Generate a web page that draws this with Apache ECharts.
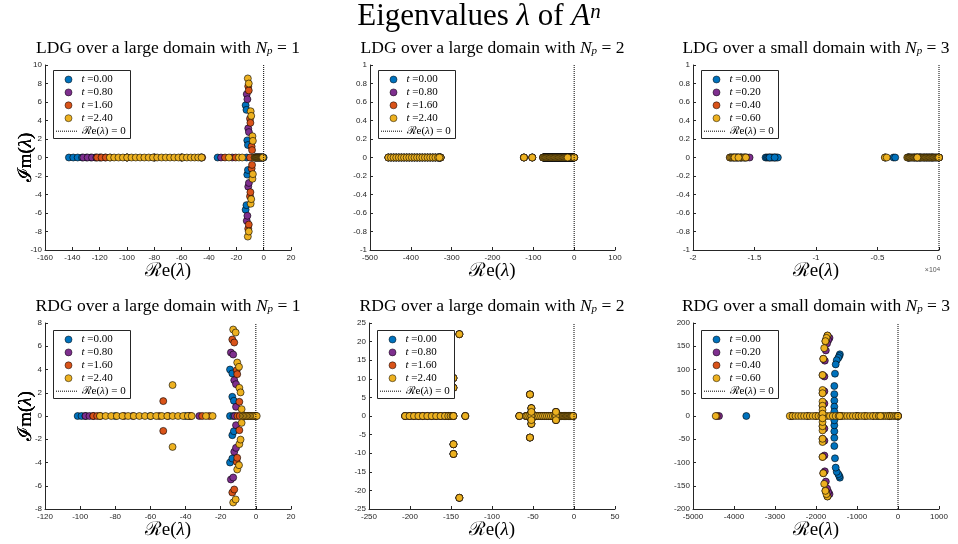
<!DOCTYPE html>
<html>
<head>
<meta charset="utf-8">
<script src="https://cdn.jsdelivr.net/npm/echarts@6/dist/echarts.min.js"></script>
<style>
html,body{margin:0;padding:0;background:#fff;}
#chart{width:958px;height:544px;}
</style>
</head>
<body>
<div id="chart"></div>
<script>
// ---------- series labels and colours ----------
const seriesColors = ['#0072BD', '#7E2F8E', '#D95319', '#EDB120'];
const timesLarge = ['0.00', '0.80', '1.60', '2.40'];
const timesSmall = ['0.00', '0.20', '0.40', '0.60'];
const panelMethods = ['LDG', 'LDG', 'LDG', 'RDG', 'RDG', 'RDG'];
const panelDomains = ['large', 'large', 'small', 'large', 'large', 'small'];
const panelNp = [1, 2, 3, 1, 2, 3];

// ---------- axis limits and tick steps ----------
const xMins = [-160, -500, -20000, -120, -250, -5000];
const xMaxs = [20, 100, 0, 20, 50, 1000];
const xSteps = [20, 100, 5000, 20, 50, 1000];
const yMins = [-10, -1, -1, -8, -25, -200];
const yMaxs = [10, 1, 1, 8, 25, 200];
const ySteps = [2, 0.2, 0.2, 2, 5, 50];
const xScaleExp = [0, 0, 4, 0, 0, 0];   // x tick labels shown as multiples of 10^exp

// ---------- eigenvalues: real ones (Im = 0) and complex ones [Re, Im] ----------
// Panel 1: LDG, large domain, Np = 1
const ldg1Real = [
  [-142.5,-139.3,-136.1,-132.9,-129.7,-126.5,-123.3,-120.1,-100,-80,-60,-46,-33.7,-12.4,-6,-3,0],
  [-132.0,-128.8,-125.6,-122.4,-119.2,-116.0,-100,-80,-60,-45.5,-31.2,-23.0,-5,-2],
  [-121.8,-118.6,-115.5,-112.3,-100,-80,-60,-45,-28.3,-20.5,-10.0,-4,-1],
  [-112.5,-109.4,-106.2,-103.0,-99.9,-96.7,-93.6,-90.4,-87.3,-84.1,-81.0,-77.9,-74.7,-71.6,-68.5,-65.4,-62.3,-59.2,-56.2,-53.3,-50.5,-47.9,-45.4,-25.4,-18.1,-15.7,
   -6.6,-6.2,-5.8,-5.4,-5.0,-4.6,-4.2,-3.8,-3.4,-3.0,-2.6,-2.2,-1.8,-1.4,-1.0,-0.6]
];
const ldg1Cplx = [
  [[-13.2,5.65],[-13.2,-5.65],[-12.6,5.15],[-12.6,-5.15],[-12.0,1.85],[-12.0,-1.85],[-11.5,1.35],[-11.5,-1.35]],
  [[-12.4,6.85],[-12.4,-6.85],[-11.9,6.3],[-11.9,-6.3],[-11.3,3.15],[-11.3,-3.15],[-10.8,2.75],[-10.8,-2.75]],
  [[-11.3,7.7],[-11.3,-7.7],[-10.9,7.25],[-10.9,-7.25],[-10.0,4.2],[-10.0,-4.2],[-9.7,3.75],[-9.7,-3.75],[-8.8,1.2],[-8.8,-1.2],[-8.5,0.8],[-8.5,-0.8]],
  [[-11.6,8.55],[-11.6,-8.55],[-10.9,8.0],[-10.9,-8.0],[-9.5,5.0],[-9.5,-5.0],[-9.1,4.5],[-9.1,-4.5],[-8.2,2.3],[-8.2,-2.3],[-7.9,1.8],[-7.9,-1.8]]
];

// Panel 2: LDG, large domain, Np = 2 (spectrum unchanged in time)
const ldg2Real = [-455,-448.6,-442.2,-435.8,-429.4,-423,-416.6,-410.2,-403.8,-397.4,-391,-384.6,-378.2,-371.8,-365.4,-359,-352.6,-346.2,-339.8,-333.4,-327,
  -123,-102.6,
  -76,-74,-72,-70,-68,-66,-64,-62,-60,-58,-56,-54,-52,-50,-48,-46,-44,-42,-40,-38,-36,-34,-32,-30,-28,-26,-24,-22,-20,-18,-14,-12,-10,-8,-6,-4,-2,0,
  -330,-16];

// Panel 3: LDG, small domain, Np = 3
const ldg3Real = [
  [-14100,-14000,-13900,-13800,-13700,-13600,-13500,-13400,-13300,-13200,-13100,-13770,-13360,-3700,-3560,-2500,-2000,-1500,-1000,-500,0],
  [-17000,-16700,-16400,-16100,-15800,-15600,-4350,-2400,-1800,-1200,-600,0,-15400],
  [-16900,-16500,-16100,-15700,-4380,-2500,-1600,-800,0],
  [-17000,-16900,-16800,-16700,-16600,-16500,-16400,-16300,-16200,-16100,-16000,-15900,-15800,-15700,-16620,-16300,
   -4400,-4250,
   -2585,-2520,-2455,-2390,-2325,-2260,-2195,-2130,-2065,-2000,-1935,-1870,-1805,-1740,-1675,-1610,-1545,-1480,-1415,-1350,
   -1285,-1220,-1155,-1090,-1025,-960,-895,-830,-765,-700,-635,-570,-505,-440,-375,-310,-245,-180,-115,-50,
   -1764,0]
];

// Panel 4: RDG, large domain, Np = 1
const rdg1Real = [
  [-101.4,-99.2,-97.0,-80,-60,-40,-14.7,-12.8,-6,-4,-2,0],
  [-96.9,-94.7,-92.5,-70,-50,-38,-32.2,-12.0,-7,-3,0],
  [-92.5,-90.3,-88.5,-75,-55,-37,-30.5,-26.5,-10.5,-9.2,-5,-1],
  [-88.7,-85.5,-82.3,-79.1,-75.9,-72.7,-69.5,-66.3,-63.1,-59.9,-56.7,-53.5,-50.4,-47.3,-44.3,-41.4,-38.7,-36.5,-28.4,-24.6,
   -7.5,-6.7,-5.9,-5.1,-4.3,-3.5,-2.7,-1.9,-1.1,-0.3,0.5]
];
const rdg1Cplx = [
  [[-14.7,4.0],[-14.7,-4.0],[-13.4,3.66],[-13.4,-3.66],[-13.4,1.65],[-13.4,-1.65],[-12.5,1.31],[-12.5,-1.31]],
  [[-14.2,5.46],[-14.2,-5.46],[-12.9,5.29],[-12.9,-5.29],[-12.3,3.08],[-12.3,-3.08],[-11.3,2.74],[-11.3,-2.74],[-11.3,0.79],[-11.3,-0.79]],
  [[-13.4,6.58],[-13.4,-6.58],[-12.3,6.32],[-12.3,-6.32],[-10.9,3.94],[-10.9,-3.94],[-10.6,3.6],[-10.6,-3.6],[-9.4,1.22],[-9.4,-1.22],[-52.7,1.28],[-52.7,-1.28]],
  [[-12.9,7.44],[-12.9,-7.44],[-11.5,7.18],[-11.5,-7.18],[-10.6,4.6],[-10.6,-4.6],[-9.6,4.23],[-9.6,-4.23],[-9.4,2.42],[-9.4,-2.42],[-8.7,2.03],[-8.7,-2.03],[-8.1,0.59],[-8.1,-0.59],[-47.4,2.66],[-47.4,-2.66]]
];

// Panel 5: RDG, large domain, Np = 2 (spectrum unchanged in time)
const rdg2Real = [-206,-200.6,-195.2,-189.8,-184.4,-179,-173.6,-168.2,-162.8,-157.4,-153.4,-150.6,-148.2,
  -132.6,-66.7,-58.5,
  -57,-54.6,-52.2,-49.8,-47.4,-45,-42.6,-40.2,-37.8,-35.4,-33,-30.6,-28.2,-25.8,-23.4,
  -21,-20,-19,-18,-17,-16,-15,-14,-13,-12,-11,-10,-9,-8,-7,-6,-5,-4,-3,-2,-1,
  -147,-52,-22];
const rdg2Cplx = [[-139.8,22],[-139.8,-22],[-147,10.2],[-147,-10.2],[-147,7.6],[-147,-7.6],
  [-53.7,5.8],[-53.7,-5.8],[-52,2.1],[-52,-2.1],[-52,1.1],[-52,-1.1],[-22,1.1],[-22,-1.1]];

// Panel 6: RDG, small domain, Np = 3
const rdg3Real = [
  [-3700,-1560,-1500,-1000,-500,0],
  [-4366,-2600,-2200,-1800,-1400,-1000,-600,-200,0],
  [-4420,-2600,-2000,-1400,-800,-200,0],
  [-4446,
   -2640,-2570,-2500,-2430,-2360,-2290,-2220,-2150,-2080,-2010,-1940,-1870,-1800,-1730,-1660,-1590,-1520,-1450,-1380,-1310,
   -1240,-1170,-1100,-1030,-960,-890,-820,-750,-680,-610,-540,-470,-400,-350,-300,-250,-200,-150,-100,-60,-20,0,
   -1420,-430]
];
const rdg3Cplx = [
  [[-1418,132.6],[-1418,-132.6],[-1431,129],[-1431,-129],[-1456,125],[-1456,-125],[-1495,120],[-1495,-120],[-1520,111],[-1520,-111],
   [-1537,91],[-1537,-91],[-1553,64.5],[-1553,-64.5],[-1553,47],[-1553,-47],[-1553,33],[-1553,-33],[-1553,20],[-1553,-20],[-1553,9.3],[-1553,-9.3]],
  [[-1670,168],[-1670,-168],[-1700,163],[-1700,-163],[-1730,156],[-1730,-156],[-1760,141],[-1760,-141],[-1785,119],[-1785,-119],
   [-1795,85],[-1795,-85],[-1795,53],[-1795,-53],[-1795,27],[-1795,-27]],
  [[-1720,173],[-1720,-173],[-1770,161],[-1770,-161],[-1822,123],[-1822,-123],[-1840,88],[-1840,-88],[-1840,49],[-1840,-49],[-1840,22],[-1840,-22]],
  [[-1720,173],[-1720,-173],[-1745,168],[-1745,-168],[-1770,161],[-1770,-161],[-1800,146],[-1800,-146],[-1822,123],[-1822,-123],
   [-1840,88],[-1840,-88],[-1840,56],[-1840,-56],[-1840,49],[-1840,-49],[-1840,31],[-1840,-31],[-1840,22],[-1840,-22],[-1840,13],[-1840,-13],[-1840,5],[-1840,-5]]
];

// ---------- assemble [Re, Im] pairs per panel and series ----------
const toPairs = (reals, cplx) => reals.map(r => [r, 0]).concat(cplx || []);
const panelData = [
  [0,1,2,3].map(k => toPairs(ldg1Real[k], ldg1Cplx[k])),
  [0,1,2,3].map(() => toPairs(ldg2Real, [])),
  [0,1,2,3].map(k => toPairs(ldg3Real[k], [])),
  [0,1,2,3].map(k => toPairs(rdg1Real[k], rdg1Cplx[k])),
  [0,1,2,3].map(() => toPairs(rdg2Real, rdg2Cplx)),
  [0,1,2,3].map(k => toPairs(rdg3Real[k], rdg3Cplx[k]))
];
const panelTimes = [timesLarge, timesLarge, timesSmall, timesLarge, timesLarge, timesSmall];

// ---------- layout ----------
const boxes = [
  {l: 45,  t: 65,  w: 246, h: 185},
  {l: 370, t: 65,  w: 245, h: 185},
  {l: 693, t: 65,  w: 246, h: 185},
  {l: 45,  t: 323, w: 246, h: 186},
  {l: 369, t: 323, w: 246, h: 186},
  {l: 693, t: 323, w: 246, h: 186}
];
const SERIF = "'Liberation Serif','DejaVu Serif',serif";
const SANS = "'Liberation Sans','DejaVu Sans',Arial,sans-serif";
const AX = '#262626';

const grids = [], xAxes = [], yAxes = [], series = [], graphics = [];

const fmt = (v, e) => {
  const s = v / Math.pow(10, e);
  return String(Math.round(s * 1e6) / 1e6);
};

boxes.forEach((b, i) => {
  grids.push({left: b.l, top: b.t, width: b.w, height: b.h, containLabel: false});
  xAxes.push({
    type: 'value', gridIndex: i, min: xMins[i], max: xMaxs[i], interval: xSteps[i],
    axisLine: {show: true, onZero: false, lineStyle: {color: AX, width: 1}},
    axisTick: {show: true, inside: true, length: 3, lineStyle: {color: AX, width: 1}},
    axisLabel: {show: true, fontSize: 8, color: AX, margin: 4, fontFamily: SANS,
      formatter: v => fmt(v, xScaleExp[i])},
    splitLine: {show: false}
  });
  yAxes.push({
    type: 'value', gridIndex: i, min: yMins[i], max: yMaxs[i], interval: ySteps[i],
    axisLine: {show: true, onZero: false, lineStyle: {color: AX, width: 1}},
    axisTick: {show: true, inside: true, length: 3, lineStyle: {color: AX, width: 1}},
    axisLabel: {show: true, fontSize: 8, color: AX, margin: 3, fontFamily: SANS,
      formatter: v => fmt(v, 0)},
    splitLine: {show: false}
  });
  panelData[i].forEach((pts, k) => {
    series.push({
      type: 'scatter', name: 't =' + panelTimes[i][k], xAxisIndex: i, yAxisIndex: i,
      data: pts, symbol: 'circle', symbolSize: 7, clip: false, silent: true,
      itemStyle: {color: seriesColors[k], borderColor: '#000', borderWidth: 0.6, opacity: 1},
      emphasis: {disabled: true}, animation: false
    });
  });
  // the imaginary axis Re(lambda) = 0
  series.push({
    type: 'line', name: 'Re = 0', xAxisIndex: i, yAxisIndex: i,
    data: [[0, yMins[i]], [0, yMaxs[i]]], showSymbol: false, symbol: 'none', silent: true,
    lineStyle: {color: '#000', width: 1, type: [1, 1]}, z: 3, animation: false
  });

  // subplot title
  graphics.push({
    type: 'text', x: b.l + b.w / 2, y: b.t - 17, z: 50,
    style: {
      text: panelMethods[i] + ' over a ' + panelDomains[i] + ' domain with {m|N}{s|p} = ' + panelNp[i],
      rich: {m: {fontStyle: 'italic', fontSize: 17.5, fontFamily: SERIF}, s: {fontStyle: 'italic', fontSize: 11, fontFamily: SERIF, verticalAlign: 'bottom'}},
      fontSize: 17.5, fontFamily: SERIF, fill: '#000', align: 'center', verticalAlign: 'middle'
    }
  });
  // axis names
  graphics.push({
    type: 'text', x: b.l + b.w / 2, y: b.t + b.h + 21, z: 50,
    style: {
      text: 'ℛe({m|λ})', rich: {m: {fontStyle: 'italic', fontSize: 19, fontFamily: SERIF}},
      fontSize: 19, fontFamily: SERIF, fill: '#000', align: 'center', verticalAlign: 'middle'
    }
  });
  graphics.push({
    type: 'text', x: 26, y: b.t + b.h / 2, rotation: Math.PI / 2, z: 50,
    style: {
      text: 'ℐm({m|λ})', rich: {m: {fontStyle: 'italic', fontSize: 19, fontFamily: SERIF}},
      fontSize: 19, fontFamily: SERIF, fill: '#000', align: 'center', verticalAlign: 'middle'
    }
  });

  // legend box
  const bx = Math.round(b.l + 8) + 0.5;
  const by = Math.round(b.t + (i < 3 ? 5 : 7)) + 0.5;
  graphics.push({
    type: 'rect', z: 100, shape: {x: bx, y: by, width: 77, height: 68},
    style: {fill: '#fff', stroke: AX, lineWidth: 1}
  });
  for (let k = 0; k < 4; k++) {
    const cy = by + 9 + 12.9 * k;
    graphics.push({type: 'circle', z: 101, shape: {cx: bx + 15, cy: cy, r: 3.5},
      style: {fill: seriesColors[k], stroke: '#000', lineWidth: 0.5}});
    graphics.push({type: 'text', z: 101, x: bx + 28, y: cy,
      style: {text: '{m|t} =' + panelTimes[i][k], rich: {m: {fontStyle: 'italic', fontSize: 11, fontFamily: SERIF}},
        fontSize: 11, fontFamily: SERIF, fill: '#000', align: 'left', verticalAlign: 'middle'}});
  }
  const ly = by + 60.7;
  graphics.push({type: 'line', z: 101, shape: {x1: bx + 2.5, y1: ly, x2: bx + 24, y2: ly},
    style: {stroke: '#000', lineWidth: 1, lineDash: [1, 1]}});
  graphics.push({type: 'text', z: 101, x: bx + 28, y: ly,
    style: {text: 'ℛe({m|λ}) = 0', rich: {m: {fontStyle: 'italic', fontSize: 11, fontFamily: SERIF}},
      fontSize: 11, fontFamily: SERIF, fill: '#000', align: 'left', verticalAlign: 'middle'}});

  if (xScaleExp[i]) {
    graphics.push({type: 'text', z: 50, x: b.l + b.w + 1, y: b.t + b.h + 20,
      style: {text: '×10{e|' + xScaleExp[i] + '}', rich: {e: {fontSize: 6, verticalAlign: 'top'}},
        fontSize: 7, fontFamily: SANS, fill: '#555', align: 'right', verticalAlign: 'middle'}});
  }
});

// figure title
graphics.push({
  type: 'text', x: 479, y: 17, z: 50,
  style: {
    text: 'Eigenvalues {m|λ} of {m|A}{u|n}',
    rich: {m: {fontStyle: 'italic', fontSize: 31, fontFamily: SERIF}, u: {fontStyle: 'italic', fontSize: 21, fontFamily: SERIF, verticalAlign: 'top'}},
    fontSize: 31, fontFamily: SERIF, fill: '#000', align: 'center', verticalAlign: 'middle'
  }
});

const chart = echarts.init(document.getElementById('chart'), null, {renderer: 'canvas'});
chart.setOption({
  animation: false,
  backgroundColor: '#fff',
  grid: grids, xAxis: xAxes, yAxis: yAxes, series: series,
  graphic: {elements: graphics}
});
</script>
</body>
</html>
